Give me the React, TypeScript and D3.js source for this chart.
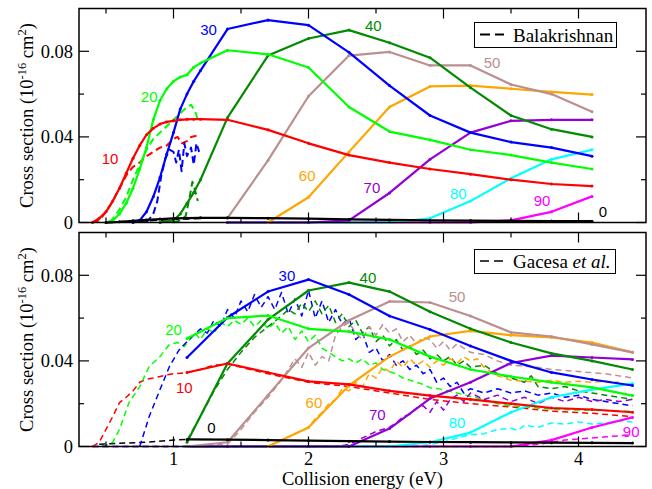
import React from 'react';
import * as d3 from 'd3';

type P = [number, number];

// ---------- axes ----------
const X_DOMAIN: [number, number] = [0.3, 4.5];
const Y_DOMAIN: [number, number] = [0, 0.1];
const xTicksMajor = [1, 2, 3, 4];
const xTickLabels = ['1', '2', '3', '4'];
const xTicksMinor = [0.5, 1.5, 2.5, 3.5];
const yTicksMajor = [0, 0.04, 0.08];
const yTickLabels = ['0', '0.04', '0.08'];
const yTicksMinor = [0.02, 0.06];

const angles = ['0', '10', '20', '30', '40', '50', '60', '70', '80', '90'];
const colors = ['#000000', '#ff0000', '#00ff00', '#0000ff', '#008b00', '#bc8f8f', '#ffa500', '#9400d3', '#00ffff', '#ff00ff'];

// ---------- top panel, solid ----------
const top0: P[] = [[0.5, 0], [0.6, 0.0003], [0.7, 0.0008], [0.8, 0.0012], [0.9, 0.0016], [1.0, 0.0019], [1.1, 0.002], [1.2, 0.0022], [1.4, 0.0022], [1.7, 0.002], [2.0, 0.0018], [2.3, 0.0015], [2.6, 0.0012], [2.9, 0.001], [3.2, 0.0009], [3.5, 0.0008], [3.8, 0.0007], [4.1, 0.0006]];
const top10: P[] = [[0.4, 0], [0.45, 0.002], [0.5, 0.005], [0.55, 0.01], [0.6, 0.016], [0.65, 0.023], [0.7, 0.03], [0.75, 0.036], [0.8, 0.041], [0.85, 0.044], [0.9, 0.046], [0.95, 0.047], [1.0, 0.0475], [1.05, 0.048], [1.1, 0.0482], [1.15, 0.0483], [1.2, 0.0483], [1.4, 0.048], [1.7, 0.0433], [2.0, 0.037], [2.3, 0.0315], [2.6, 0.028], [2.9, 0.025], [3.2, 0.0226], [3.5, 0.02], [3.8, 0.018], [4.1, 0.017]];
const top20: P[] = [[0.5, 0], [0.55, 0.001], [0.6, 0.004], [0.65, 0.009], [0.7, 0.016], [0.75, 0.025], [0.8, 0.035], [0.85, 0.048], [0.9, 0.057], [0.95, 0.0625], [1.0, 0.066], [1.05, 0.068], [1.1, 0.069], [1.15, 0.0725], [1.2, 0.0745], [1.4, 0.0805], [1.7, 0.0786], [2.0, 0.0724], [2.3, 0.054], [2.6, 0.0425], [2.9, 0.0386], [3.2, 0.034], [3.5, 0.0315], [3.8, 0.028], [4.1, 0.025]];
const top30: P[] = [[0.7, 0], [0.75, 0.001], [0.8, 0.005], [0.85, 0.012], [0.9, 0.021], [0.95, 0.032], [1.0, 0.042], [1.05, 0.053], [1.1, 0.06], [1.15, 0.066], [1.2, 0.071], [1.4, 0.0904], [1.7, 0.0946], [2.0, 0.0922], [2.3, 0.0795], [2.6, 0.064], [2.9, 0.05], [3.2, 0.042], [3.5, 0.0376], [3.8, 0.035], [4.1, 0.031]];
const top40: P[] = [[0.9, 0], [1.0, 0.001], [1.05, 0.004], [1.1, 0.009], [1.15, 0.014], [1.2, 0.02], [1.4, 0.049], [1.7, 0.078], [2.0, 0.086], [2.3, 0.0899], [2.6, 0.084], [2.9, 0.077], [3.2, 0.063], [3.5, 0.05], [3.8, 0.0436], [4.1, 0.04]];
const top50: P[] = [[1.4, 0.002], [1.7, 0.029], [2.0, 0.059], [2.3, 0.078], [2.6, 0.0797], [2.9, 0.0734], [3.2, 0.0734], [3.5, 0.0645], [3.8, 0.06], [4.1, 0.0517]];
const top60: P[] = [[1.7, 0], [2.0, 0.0118], [2.3, 0.033], [2.6, 0.054], [2.9, 0.0636], [3.2, 0.064], [3.5, 0.0625], [3.8, 0.061], [4.1, 0.0598]];
const top70: P[] = [[1.4, 0], [1.7, 0], [2.0, 0], [2.3, 0.001], [2.6, 0.0138], [2.9, 0.0295], [3.2, 0.042], [3.5, 0.0475], [3.8, 0.048], [4.1, 0.048]];
const top80: P[] = [[1.4, 0], [1.7, 0], [2.0, 0], [2.3, 0], [2.6, 0], [2.9, 0.002], [3.2, 0.01], [3.5, 0.0207], [3.8, 0.0295], [4.1, 0.034]];
const top90: P[] = [[1.4, 0], [1.7, 0], [2.0, 0], [2.3, 0], [2.6, 0], [2.9, 0], [3.2, 0], [3.5, 0.001], [3.8, 0.005], [4.1, 0.0122]];

// ---------- top panel, dashed (Balakrishnan) ----------
const bal0: P[] = [[0.5, 0], [0.7, 0.0005], [0.9, 0.0012], [1.1, 0.0018], [1.2, 0.002]];
const bal10: P[] = [[0.4, 0], [0.45, 0.001], [0.5, 0.005], [0.55, 0.01], [0.6, 0.016], [0.65, 0.022], [0.7, 0.026], [0.75, 0.028], [0.8, 0.031], [0.85, 0.033], [0.9, 0.035], [0.95, 0.036], [1.0, 0.039], [1.03, 0.04], [1.06, 0.037], [1.1, 0.038], [1.13, 0.04], [1.17, 0.0405]];
const bal20: P[] = [[0.53, 0], [0.6, 0.006], [0.65, 0.012], [0.7, 0.02], [0.75, 0.027], [0.8, 0.034], [0.85, 0.039], [0.9, 0.042], [0.95, 0.045], [1.0, 0.048], [1.05, 0.051], [1.1, 0.054], [1.13, 0.055], [1.16, 0.052], [1.18, 0.048]];
const bal30: P[] = [[0.8, 0], [0.85, 0.004], [0.88, 0.01], [0.91, 0.022], [0.94, 0.03], [0.97, 0.034], [1.0, 0.033], [1.02, 0.028], [1.04, 0.034], [1.06, 0.024], [1.08, 0.037], [1.1, 0.031], [1.13, 0.035], [1.15, 0.027], [1.17, 0.037], [1.19, 0.033]];
const bal40: P[] = [[1.0, 0], [1.05, 0.001], [1.09, 0.003], [1.12, 0.012], [1.14, 0.019], [1.16, 0.015], [1.18, 0.01]];

// ---------- bottom panel, solid ----------
const botX = [1.1, 1.4, 1.7, 2.0, 2.3, 2.6, 2.9, 3.2, 3.5, 3.8, 4.1, 4.4];
const bot0 = [0.0033, 0.0032, 0.003, 0.0027, 0.0025, 0.0023, 0.0021, 0.002, 0.0019, 0.0018, 0.0017, 0.0016];
const bot10 = [0.0346, 0.0388, 0.0346, 0.0304, 0.029, 0.026, 0.0238, 0.022, 0.02, 0.018, 0.0173, 0.016];
const bot20 = [0.0505, 0.06, 0.0612, 0.055, 0.0537, 0.05, 0.042, 0.036, 0.0327, 0.03, 0.0276, 0.0238];
const bot30 = [0.0416, 0.0603, 0.0724, 0.078, 0.071, 0.061, 0.0547, 0.047, 0.04, 0.0346, 0.0313, 0.0285];
const bot40 = [0.002, 0.0388, 0.0593, 0.0729, 0.0766, 0.0724, 0.063, 0.055, 0.0486, 0.0435, 0.04, 0.036];
const bot50 = [0, 0.002, 0.024, 0.046, 0.059, 0.0678, 0.0673, 0.061, 0.0533, 0.0514, 0.0477, 0.044];
const bot60 = [null, null, 0, 0.0089, 0.0285, 0.042, 0.0514, 0.054, 0.052, 0.051, 0.0486, 0.044];
const bot70 = [0, 0, 0, 0, 0, 0.0084, 0.0224, 0.03, 0.039, 0.0425, 0.0416, 0.0407];
const bot80 = [0, 0, 0, 0, 0, 0, 0.002, 0.0065, 0.016, 0.023, 0.0266, 0.0294];
const bot90 = [0, 0, 0, 0, 0, 0, 0, 0, 0, 0.003, 0.0089, 0.0136];

// ---------- bottom panel, dashed (Gacesa et al.) ----------
const gac0: P[] = [[0.45, 0.001], [0.6, 0.0015], [0.8, 0.002], [1.0, 0.003], [1.1, 0.0033]];
const gac10: P[] = [[0.4, 0], [0.45, 0.002], [0.5, 0.008], [0.55, 0.014], [0.6, 0.0205], [0.65, 0.023], [0.7, 0.026], [0.75, 0.03], [0.8, 0.0315], [0.85, 0.032], [0.9, 0.0327], [0.95, 0.0335], [1.0, 0.034], [1.1, 0.0345], [1.2, 0.036], [1.3, 0.038], [1.4, 0.0385], [1.5, 0.037], [1.7, 0.034], [2.0, 0.03], [2.3, 0.028], [2.6, 0.025], [2.9, 0.022], [3.2, 0.02], [3.5, 0.0185], [3.8, 0.0165], [4.1, 0.0155], [4.4, 0.014]];
const gac20: P[] = [[0.47, 0], [0.55, 0.002], [0.6, 0.008], [0.67, 0.0205], [0.75, 0.028], [0.82, 0.0374], [0.9, 0.042], [0.97, 0.0477], [1.03, 0.0486], [1.08, 0.0467], [1.12, 0.05], [1.16, 0.053], [1.2, 0.05], [1.25, 0.055], [1.3, 0.053], [1.35, 0.058], [1.4, 0.056], [1.45, 0.059], [1.5, 0.057], [1.55, 0.06], [1.6, 0.056], [1.65, 0.059], [1.7, 0.055], [1.75, 0.058], [1.8, 0.053], [1.85, 0.056], [1.9, 0.05], [1.95, 0.054], [2.0, 0.049], [2.05, 0.052], [2.1, 0.046], [2.15, 0.044], [2.2, 0.042], [2.25, 0.04], [2.3, 0.041], [2.35, 0.039], [2.4, 0.041], [2.45, 0.038], [2.5, 0.039], [2.55, 0.036], [2.6, 0.035], [2.65, 0.034], [2.7, 0.032], [2.75, 0.031], [2.8, 0.03], [2.85, 0.029], [2.9, 0.0275], [3.0, 0.0266], [3.1, 0.025], [3.2, 0.0234], [3.3, 0.022], [3.4, 0.02], [3.5, 0.019], [3.6, 0.0185], [3.8, 0.0175], [4.0, 0.017], [4.2, 0.0168], [4.4, 0.0164]];
const gac30: P[] = [[0.75, 0], [0.82, 0.014], [0.9, 0.0266], [0.97, 0.0374], [1.04, 0.045], [1.1, 0.049], [1.15, 0.052], [1.2, 0.055], [1.25, 0.053], [1.3, 0.059], [1.35, 0.056], [1.4, 0.064], [1.45, 0.06], [1.5, 0.068], [1.55, 0.063], [1.6, 0.071], [1.65, 0.065], [1.7, 0.07], [1.75, 0.064], [1.8, 0.072], [1.85, 0.062], [1.9, 0.069], [1.95, 0.061], [2.0, 0.073], [2.05, 0.06], [2.1, 0.068], [2.15, 0.058], [2.2, 0.064], [2.25, 0.057], [2.3, 0.06], [2.35, 0.05], [2.4, 0.053], [2.45, 0.044], [2.5, 0.046], [2.55, 0.04], [2.6, 0.043], [2.65, 0.038], [2.7, 0.04], [2.75, 0.036], [2.8, 0.038], [2.85, 0.034], [2.9, 0.036], [2.95, 0.03], [3.0, 0.032], [3.05, 0.028], [3.1, 0.03], [3.15, 0.025], [3.2, 0.027], [3.3, 0.025], [3.4, 0.027], [3.5, 0.025], [3.6, 0.026], [3.7, 0.024], [3.8, 0.025], [3.9, 0.023], [4.0, 0.024], [4.1, 0.022], [4.2, 0.021], [4.3, 0.02], [4.4, 0.019]];
const gac40: P[] = [[1.1, 0.003], [1.2, 0.014], [1.3, 0.026], [1.4, 0.036], [1.5, 0.044], [1.6, 0.051], [1.7, 0.056], [1.8, 0.061], [1.85, 0.064], [1.9, 0.062], [1.95, 0.067], [2.0, 0.063], [2.05, 0.068], [2.1, 0.062], [2.15, 0.066], [2.2, 0.058], [2.25, 0.062], [2.3, 0.056], [2.35, 0.059], [2.4, 0.053], [2.45, 0.056], [2.5, 0.049], [2.55, 0.052], [2.6, 0.047], [2.65, 0.05], [2.7, 0.045], [2.75, 0.047], [2.8, 0.043], [2.85, 0.045], [2.9, 0.041], [2.95, 0.043], [3.0, 0.04], [3.05, 0.042], [3.1, 0.038], [3.15, 0.04], [3.2, 0.037], [3.3, 0.038], [3.4, 0.034], [3.5, 0.032], [3.6, 0.03], [3.65, 0.033], [3.7, 0.028], [3.8, 0.027], [3.9, 0.028], [4.0, 0.026], [4.1, 0.025], [4.2, 0.024], [4.3, 0.023], [4.4, 0.022]];
const gac50: P[] = [[1.1, 0], [1.4, 0.001], [1.5, 0.008], [1.6, 0.016], [1.7, 0.023], [1.8, 0.031], [1.85, 0.036], [1.9, 0.041], [1.95, 0.037], [2.0, 0.044], [2.05, 0.038], [2.1, 0.042], [2.15, 0.04], [2.2, 0.052], [2.25, 0.056], [2.3, 0.058], [2.35, 0.053], [2.4, 0.05], [2.45, 0.056], [2.5, 0.052], [2.55, 0.057], [2.6, 0.053], [2.65, 0.055], [2.7, 0.049], [2.75, 0.052], [2.8, 0.048], [2.85, 0.051], [2.9, 0.05], [2.95, 0.046], [3.0, 0.049], [3.05, 0.045], [3.1, 0.048], [3.15, 0.046], [3.2, 0.044], [3.3, 0.043], [3.4, 0.04], [3.5, 0.038], [3.6, 0.0375], [3.7, 0.037], [3.8, 0.036], [3.9, 0.0355], [4.0, 0.035], [4.1, 0.0345], [4.2, 0.034], [4.3, 0.033], [4.4, 0.032]];
const gac60: P[] = [[1.7, 0], [1.8, 0.003], [1.9, 0.006], [2.0, 0.009], [2.05, 0.013], [2.1, 0.016], [2.15, 0.02], [2.2, 0.022], [2.25, 0.027], [2.3, 0.026], [2.35, 0.03], [2.4, 0.028], [2.45, 0.034], [2.5, 0.032], [2.55, 0.037], [2.6, 0.035], [2.65, 0.04], [2.7, 0.037], [2.75, 0.041], [2.8, 0.038], [2.85, 0.04], [2.9, 0.037], [2.95, 0.04], [3.0, 0.038], [3.05, 0.041], [3.1, 0.039], [3.15, 0.042], [3.2, 0.04], [3.25, 0.041], [3.3, 0.037], [3.4, 0.033], [3.5, 0.031], [3.6, 0.0305], [3.7, 0.03], [3.8, 0.031], [3.9, 0.03], [4.0, 0.0305], [4.1, 0.03], [4.2, 0.0305], [4.3, 0.03]];
const gac70: P[] = [[0.4, 0], [2.2, 0], [2.3, 0.001], [2.4, 0.004], [2.5, 0.007], [2.6, 0.009], [2.65, 0.011], [2.7, 0.014], [2.75, 0.015], [2.8, 0.018], [2.85, 0.019], [2.9, 0.016], [2.95, 0.021], [3.0, 0.017], [3.05, 0.022], [3.1, 0.024], [3.15, 0.021], [3.2, 0.025], [3.3, 0.022], [3.4, 0.024], [3.5, 0.021], [3.6, 0.023], [3.7, 0.02], [3.8, 0.023], [3.9, 0.021], [4.0, 0.023], [4.1, 0.021], [4.2, 0.022], [4.3, 0.021], [4.4, 0.022]];
const gac80: P[] = [[0.4, 0], [2.8, 0], [2.9, 0.001], [3.0, 0.002], [3.1, 0.004], [3.2, 0.0055], [3.3, 0.006], [3.4, 0.008], [3.5, 0.0085], [3.55, 0.0075], [3.6, 0.01], [3.7, 0.009], [3.8, 0.011], [3.9, 0.0105], [4.0, 0.0115], [4.1, 0.0105], [4.2, 0.011], [4.3, 0.012], [4.4, 0.0115]];
const gac90: P[] = [[0.4, 0], [3.5, 0], [3.7, 0.001], [3.8, 0.002], [3.9, 0.003], [4.0, 0.0035], [4.1, 0.004], [4.2, 0.0045], [4.3, 0.005], [4.4, 0.0055]];

// ---------- curve labels (data coordinates) ----------
const topLabelX = [4.18, 0.53, 0.82, 1.26, 2.48, 3.36, 1.99, 2.47, 3.11, 3.73];
const topLabelY = [0.0052, 0.03, 0.059, 0.09, 0.092, 0.075, 0.022, 0.0165, 0.0137, 0.0104];
const botLabelX = [1.28, 1.08, 1.0, 1.84, 2.44, 3.1, 2.04, 2.51, 3.1, 4.39];
const botLabelY = [0.0089, 0.0276, 0.0547, 0.08, 0.079, 0.07, 0.0206, 0.015, 0.011, 0.007];

const zipBot = (ys: (number | null)[]): P[] =>
  botX.map((x, i) => [x, ys[i]] as [number, number | null]).filter(d => d[1] !== null) as P[];

const SERIF = '"Liberation Serif", "Times New Roman", serif';
const SANS = '"Liberation Sans", Arial, sans-serif';

export default function App() {
  const W = 652, H = 489, L = 79, R = 646;
  const x = d3.scaleLinear().domain(X_DOMAIN).range([L, R]);

  const panels = [
    {
      top: 8.5, bottom: 222.5,
      solid: [top0, top10, top20, top30, top40, top50, top60, top70, top80, top90],
      dashed: [bal0, bal10, bal20, bal30, bal40],
      dashedColors: [colors[0], colors[1], colors[2], colors[3], colors[4]],
      labX: topLabelX, labY: topLabelY,
      legend: 'top', xlabels: false, dash: '7,4', dashW: 2,
    },
    {
      top: 232.5, bottom: 446.5,
      solid: [bot0, bot10, bot20, bot30, bot40, bot50, bot60, bot70, bot80, bot90].map(zipBot),
      dashed: [gac0, gac10, gac20, gac30, gac40, gac50, gac60, gac70, gac80, gac90],
      dashedColors: colors,
      labX: botLabelX, labY: botLabelY,
      legend: 'bottom', xlabels: true, dash: '6,4', dashW: 1.5,
    },
  ];

  const drawOrder = [9, 8, 7, 6, 5, 4, 3, 2, 1, 0];

  return (
    <svg width={W} height={H} style={{ position: 'absolute', left: 0, top: 0, background: '#fff' }}>
      <rect x={0} y={0} width={W} height={H} fill="#fff" />
      {panels.map((p, pi) => {
        const y = d3.scaleLinear().domain(Y_DOMAIN).range([p.bottom, p.top]);
        const line = d3.line<P>().x(d => x(d[0])).y(d => y(d[1]));
        return (
          <g key={pi}>
            {p.dashed.map((s, i) => (
              <path key={'d' + i} d={line(s) || ''} fill="none" stroke={p.dashedColors[i]}
                strokeWidth={p.dashW} strokeDasharray={p.dash} strokeLinejoin="round" />
            ))}
            {drawOrder.map(i => (
              <g key={'s' + i}>
                <path d={line(p.solid[i]) || ''} fill="none" stroke={colors[i]} strokeWidth={2.2} strokeLinejoin="round" />
                {p.solid[i].map((d, j) => (
                  <circle key={j} cx={x(d[0])} cy={y(d[1])} r={1.5} fill={colors[i]} />
                ))}
              </g>
            ))}
            {angles.map((a, i) => (
              <text key={'l' + i} x={x(p.labX[i])} y={y(p.labY[i])} fill={colors[i]}
                fontFamily={SANS} fontSize={15} textAnchor="middle" dominantBaseline="central">{a}</text>
            ))}
            <rect x={L} y={p.top} width={R - L} height={p.bottom - p.top} fill="none" stroke="#000" strokeWidth={1.5} />
            {xTicksMajor.map(t => (
              <g key={'xm' + t}>
                <line x1={x(t)} x2={x(t)} y1={p.bottom} y2={p.bottom - 10} stroke="#000" strokeWidth={1.2} />
                <line x1={x(t)} x2={x(t)} y1={p.top} y2={p.top + 10} stroke="#000" strokeWidth={1.2} />
              </g>
            ))}
            {xTicksMinor.map(t => (
              <g key={'xn' + t}>
                <line x1={x(t)} x2={x(t)} y1={p.bottom} y2={p.bottom - 5} stroke="#000" strokeWidth={1.2} />
                <line x1={x(t)} x2={x(t)} y1={p.top} y2={p.top + 5} stroke="#000" strokeWidth={1.2} />
              </g>
            ))}
            {yTicksMajor.map(t => (
              <g key={'ym' + t}>
                <line x1={L} x2={L + 10} y1={y(t)} y2={y(t)} stroke="#000" strokeWidth={1.2} />
                <line x1={R} x2={R - 10} y1={y(t)} y2={y(t)} stroke="#000" strokeWidth={1.2} />
              </g>
            ))}
            {yTicksMinor.map(t => (
              <g key={'yn' + t}>
                <line x1={L} x2={L + 5} y1={y(t)} y2={y(t)} stroke="#000" strokeWidth={1.2} />
                <line x1={R} x2={R - 5} y1={y(t)} y2={y(t)} stroke="#000" strokeWidth={1.2} />
              </g>
            ))}
            {yTicksMajor.map((t, i) => (
              <text key={'yl' + t} x={L - 6} y={y(t) + 6.5} textAnchor="end" fontFamily={SERIF} fontSize={18.5}>{yTickLabels[i]}</text>
            ))}
            {p.xlabels && xTicksMajor.map((t, i) => (
              <text key={'xl' + t} x={x(t)} y={465} textAnchor="middle" fontFamily={SERIF} fontSize={18.5}>{xTickLabels[i]}</text>
            ))}
            <text transform={`translate(33,${(p.top + p.bottom) / 2}) rotate(-90)`} textAnchor="middle"
              fontFamily={SERIF} fontSize={18.5}>
              Cross section (10<tspan dy={-7} fontSize={12.5}>-16</tspan><tspan dy={7}> cm</tspan><tspan dy={-7} fontSize={12.5}>2</tspan><tspan dy={7}>)</tspan>
            </text>
            {p.legend === 'top' ? (
              <g>
                <rect x={474.5} y={22.5} width={142} height={25} fill="#fff" stroke="#000" strokeWidth={1} />
                <line x1={480} x2={504} y1={34.5} y2={34.5} stroke="#000" strokeWidth={2} strokeDasharray="10,5" />
                <text x={513} y={41.5} fontFamily={SERIF} fontSize={19}>Balakrishnan</text>
              </g>
            ) : (
              <g>
                <rect x={474.5} y={249.5} width={141} height={24} fill="#fff" stroke="#000" strokeWidth={1} />
                <line x1={480} x2={504} y1={261} y2={261} stroke="#000" strokeWidth={1.6} strokeDasharray="9,5" />
                <text x={513} y={267.5} fontFamily={SERIF} fontSize={19}>Gacesa <tspan fontStyle="italic">et al.</tspan></text>
              </g>
            )}
          </g>
        );
      })}
      <text x={(L + R) / 2} y={484.5} textAnchor="middle" fontFamily={SERIF} fontSize={18.5}>Collision energy (eV)</text>
    </svg>
  );
}
